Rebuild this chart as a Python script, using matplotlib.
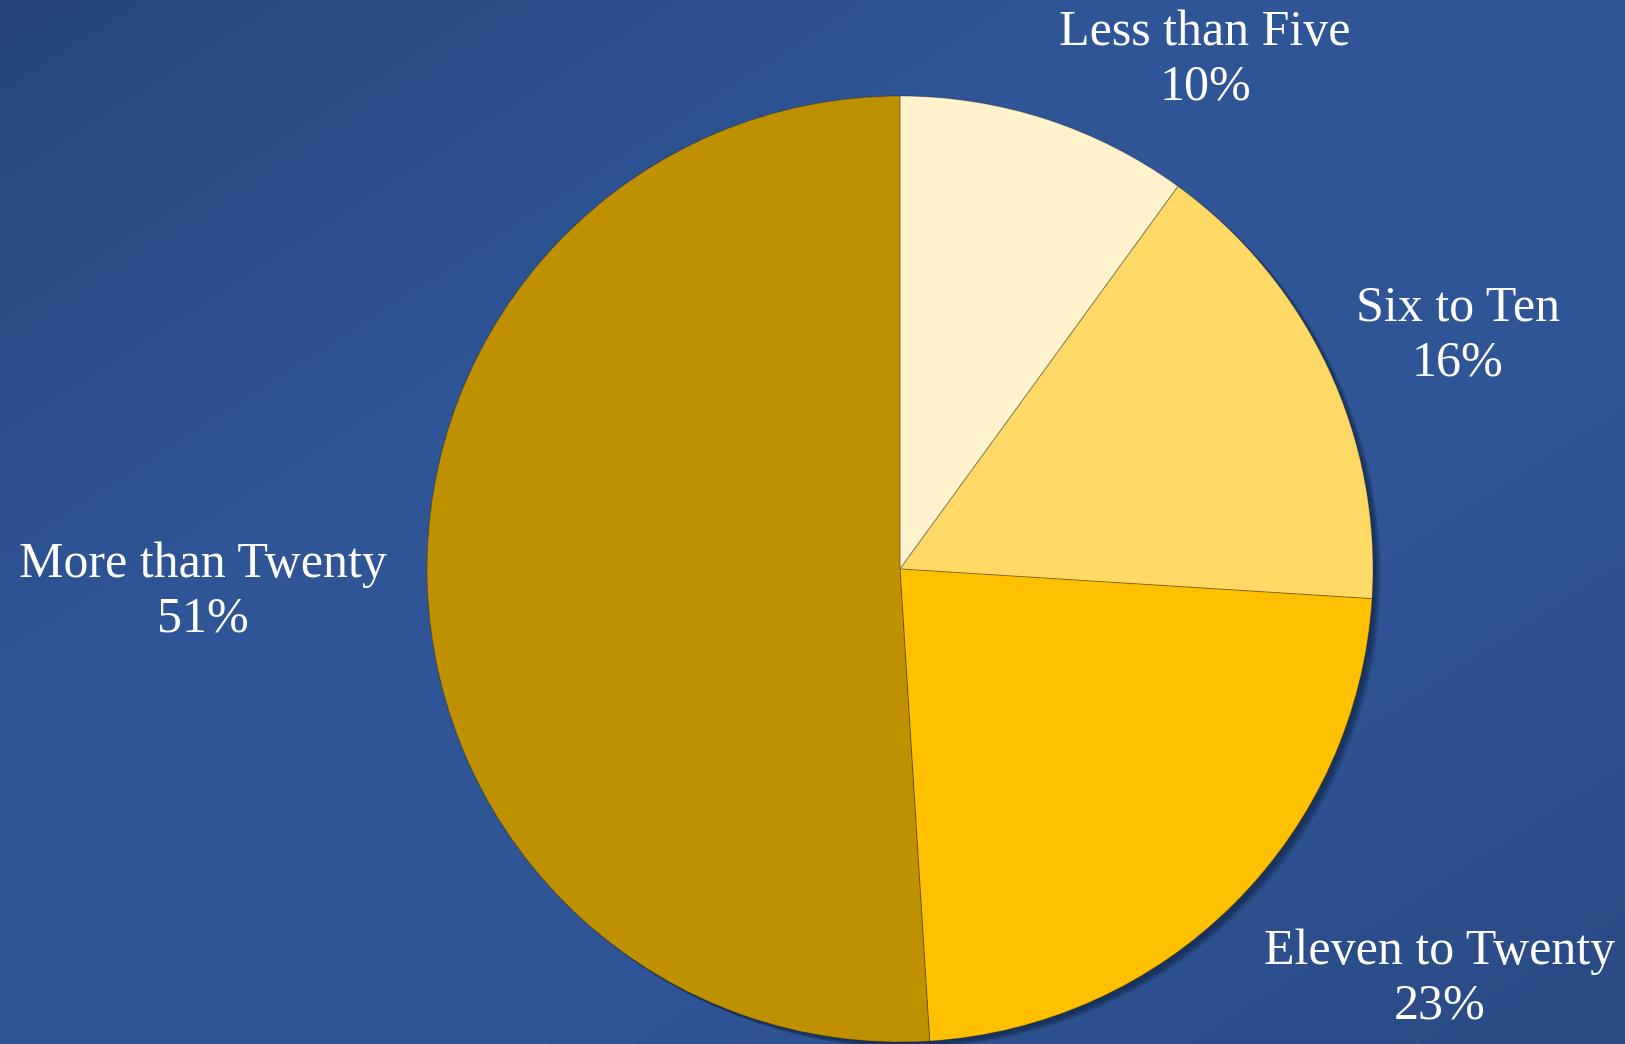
import numpy as np
import matplotlib.pyplot as plt
from matplotlib.patches import Circle
from matplotlib.colors import LinearSegmentedColormap

labels = ['Less than Five', 'Six to Ten', 'Eleven to Twenty', 'More than Twenty']
shares = [10, 16, 23, 51]
colors = ['#FFF2CC', '#FFD966', '#FFC000', '#BF9000']
# label anchor points (pixel space, y down) for the two-line labels
label_pos = [(1205, 60), (1458, 336), (1440, 979), (203, 592)]

W, H = 1625, 1044
fig = plt.figure(figsize=(W / 100, H / 100), dpi=100)
ax = fig.add_axes([0, 0, 1, 1])

# diagonal background gradient
xx, yy = np.meshgrid(np.linspace(0, 1, 400), np.linspace(0, 1, 260))
t = (xx + yy) / 2
bg = LinearSegmentedColormap.from_list('bg', ['#27457A', '#2F5597', '#2F5597', '#2A4A84'])
ax.imshow(t, cmap=bg, extent=(0, W, 0, H), origin='upper', aspect='auto',
          interpolation='bilinear', zorder=0)

wedges, _ = ax.pie(shares, colors=colors, startangle=90, counterclock=False,
                   center=(900, H - 569), radius=473, frame=True,
                   wedgeprops=dict(edgecolor=(0, 0, 0, 0.25), linewidth=0.8, zorder=2))

# soft outer shadow, down-right
cx, cy = wedges[0].center
r = wedges[0].r
for k in range(6):
    ax.add_patch(Circle((cx + 3 + k, cy - 3 - k * 0.6), r, color='#0d1f3c',
                        alpha=0.12, lw=0, zorder=1))

ax.set_xlim(0, W)
ax.set_ylim(0, H)
ax.set_aspect('equal')
ax.axis('off')

for lab, val, (x, y) in zip(labels, shares, label_pos):
    ax.text(x, H - y, f'{lab}\n{val}%', ha='center', va='center', color='white',
            fontsize=36, family='Liberation Serif', linespacing=1.25, zorder=3)

plt.savefig('out.png', dpi=100)
